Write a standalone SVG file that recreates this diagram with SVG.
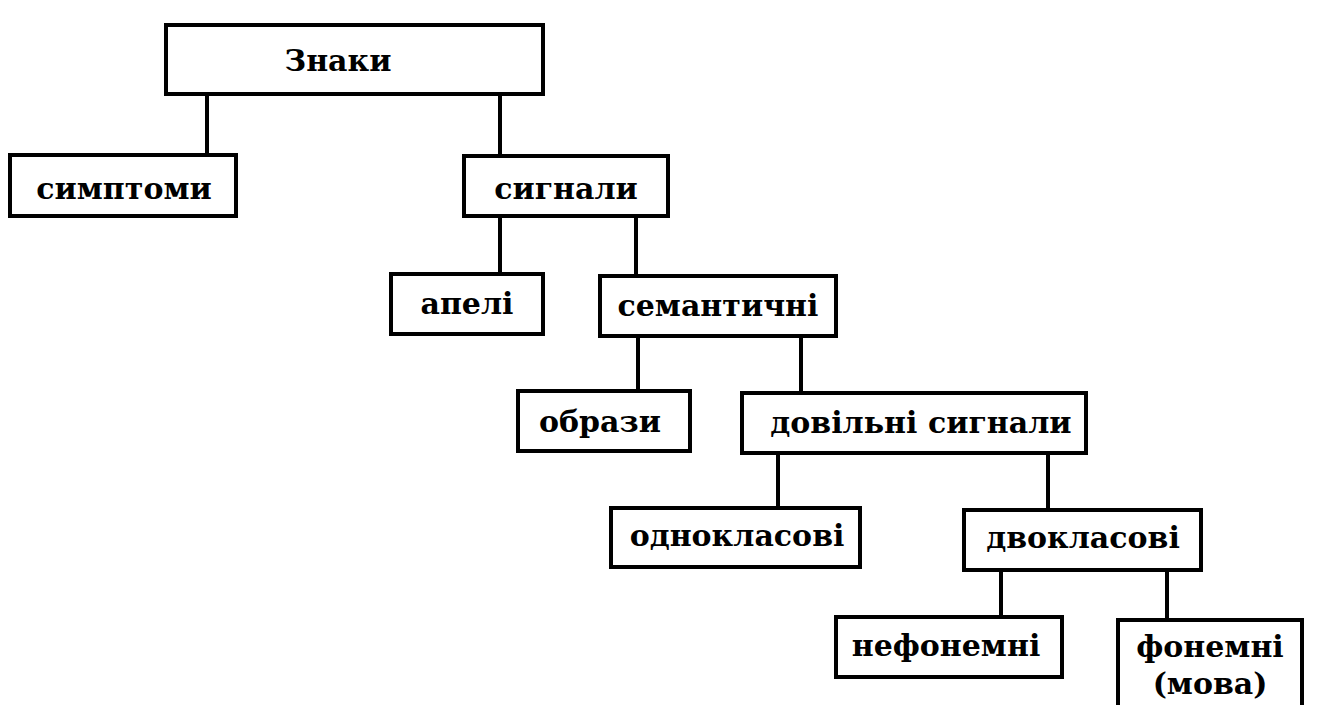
<svg xmlns="http://www.w3.org/2000/svg" width="1322" height="705" viewBox="0 0 1322 705">
<style>
.box{fill:#fff;stroke:#000;stroke-width:4}
.lbl{font-family:"DejaVu Serif","Liberation Serif",serif;font-weight:bold;font-size:30px;fill:#000;text-anchor:middle}
.con line{stroke:#000;stroke-width:4}
</style>
<rect width="1322" height="705" fill="#fff"/>
<g class="con" id="connectors">
<line x1="207" y1="94" x2="207" y2="155"/>
<line x1="500" y1="94" x2="500" y2="156"/>
<line x1="500" y1="216" x2="500" y2="274"/>
<line x1="636" y1="216" x2="636" y2="276"/>
<line x1="638" y1="336" x2="638" y2="391"/>
<line x1="801" y1="336" x2="801" y2="393"/>
<line x1="778" y1="453" x2="778" y2="508"/>
<line x1="1048" y1="453" x2="1048" y2="510"/>
<line x1="1001" y1="570" x2="1001" y2="617"/>
<line x1="1167" y1="570" x2="1167" y2="620"/>
</g>
<g id="znaky"><rect class="box" x="166" y="25" width="377" height="69"/><text class="lbl" x="338" y="71">Знаки</text></g>
<g id="symptomy"><rect class="box" x="10" y="155" width="226" height="61"/><text class="lbl" x="124" y="199">симптоми</text></g>
<g id="syhnaly"><rect class="box" x="464" y="156" width="204" height="60"/><text class="lbl" x="566" y="199">сигнали</text></g>
<g id="apeli"><rect class="box" x="391" y="274" width="152" height="60"/><text class="lbl" x="467" y="314">апелі</text></g>
<g id="semantychni"><rect class="box" x="600" y="276" width="236" height="60"/><text class="lbl" x="718" y="316">семантичні</text></g>
<g id="obrazy"><rect class="box" x="518" y="391" width="172" height="60"/><text class="lbl" x="600" y="432">образи</text></g>
<g id="dovilni"><rect class="box" x="742" y="393" width="344" height="60"/><text class="lbl" x="921" y="433">довільні сигнали</text></g>
<g id="odnoklasovi"><rect class="box" x="611" y="508" width="249" height="59"/><text class="lbl" x="737" y="546">однокласові</text></g>
<g id="dvoklasovi"><rect class="box" x="964" y="510" width="237" height="60"/><text class="lbl" x="1083" y="548">двокласові</text></g>
<g id="nefonemni"><rect class="box" x="836" y="617" width="226" height="60"/><text class="lbl" x="946" y="656">нефонемні</text></g>
<g id="fonemni"><rect class="box" x="1118" y="620" width="184" height="90"/><text class="lbl" x="1210" y="657">фонемні</text><text class="lbl" x="1210" y="694">(мова)</text></g>
</svg>
